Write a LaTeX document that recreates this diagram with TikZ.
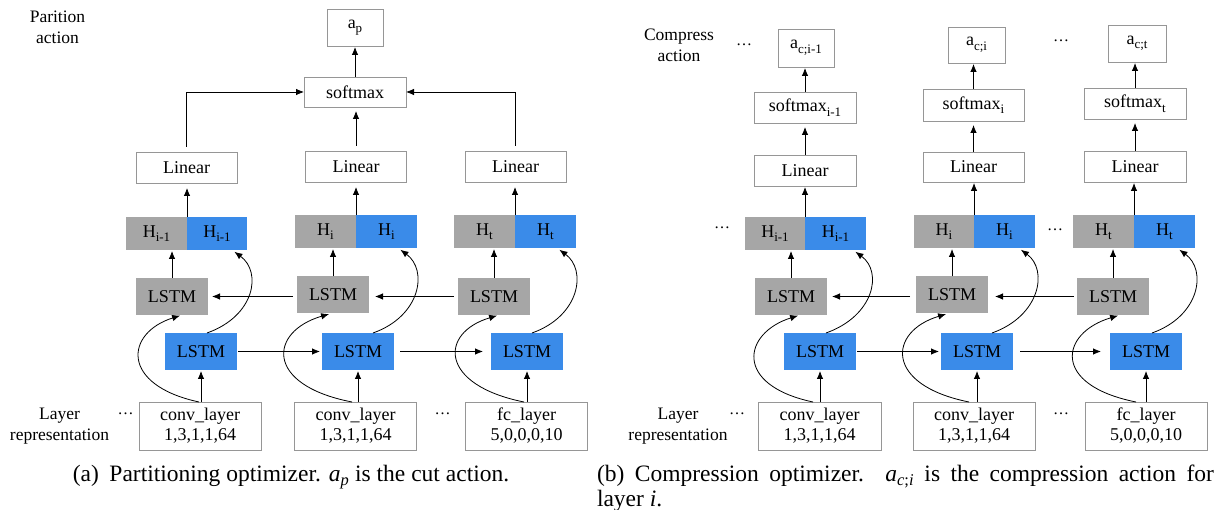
\documentclass[tikz,border=0pt]{standalone}
\usepackage{fontspec}
\setmainfont{Liberation Serif}
\usetikzlibrary{arrows.meta}
\definecolor{lgray}{RGB}{166,166,166}
\definecolor{lblue}{RGB}{58,139,233}
\definecolor{bordergray}{RGB}{150,150,150}
\newcommand{\mysub}[1]{\raisebox{-4.5pt}{\fontsize{13}{13}\selectfont #1}}
\newcommand{\mydots}{\raisebox{0.3em}{…}}
\tikzset{
  every node/.style={inner sep=0pt, outer sep=0pt},
  boxfont/.style={font=\fontsize{18}{20}\selectfont, align=center},
  wbox/.style={boxfont, draw=bordergray, line width=0.9pt, fill=white},
  gbox/.style={boxfont, fill=lgray},
  bbox/.style={boxfont, fill=lblue},
  lstm/.style={minimum width=72pt, minimum height=37pt},
  hbox/.style={minimum width=61pt, minimum height=33pt},
  botbox/.style={wbox, minimum width=122pt, minimum height=48pt},
  linbox/.style={wbox, minimum width=101pt, minimum height=31pt},
  lbl/.style={font=\fontsize{17.5}{21}\selectfont, align=center},
  dotsty/.style={font=\fontsize{16}{16}\selectfont},
  capfont/.style={font=\fontsize{23.5}{24}\selectfont},
  arr/.style={-{Latex[length=8pt,width=6.5pt]}, line width=0.8pt},
}
\begin{document}
\begin{tikzpicture}[x=1pt,y=-1pt]
\useasboundingbox (0,0) rectangle (1216,510);

% ---------------- panel (a) ----------------
\node[lbl] (pact) at (57.5,27) {Parition\\action};
\node[wbox, minimum width=56pt, minimum height=37pt] (ap) at (355,27.5) {a\mysub{p}};
\node[wbox, minimum width=102pt, minimum height=30pt] (sma) at (355,92) {softmax};
\node[linbox] (linA1) at (186.5,167.5) {Linear};
\node[linbox] (linA2) at (356,166.5) {Linear};
\node[linbox] (linA3) at (515.5,166.5) {Linear};

\node[gbox, hbox] (HgA1) at (156.5,233.5) {H\mysub{i-1}};
\node[bbox, hbox, minimum width=60pt] (HbA1) at (217,233.5) {H\mysub{i-1}};
\node[gbox, hbox] (HgA2) at (325.5,231.5) {H\mysub{i}};
\node[bbox, hbox] (HbA2) at (386.5,231.5) {H\mysub{i}};
\node[gbox, hbox] (HgA3) at (484.5,231.5) {H\mysub{t}};
\node[bbox, hbox] (HbA3) at (545.5,231.5) {H\mysub{t}};

\node[gbox, lstm] (LgA1) at (172,296.5) {LSTM};
\node[gbox, lstm] (LgA2) at (333,295) {LSTM};
\node[gbox, lstm] (LgA3) at (494,296.5) {LSTM};
\node[bbox, lstm] (LbA1) at (201,351.5) {LSTM};
\node[bbox, lstm] (LbA2) at (358,351.5) {LSTM};
\node[bbox, lstm] (LbA3) at (527,351.5) {LSTM};

\node[botbox] (BA1) at (200,426) {conv\_layer\\1,3,1,1,64};
\node[botbox] (BA2) at (355.5,426) {conv\_layer\\1,3,1,1,64};
\node[botbox] (BA3) at (526.5,426) {fc\_layer\\5,0,0,0,10};

\node[lbl] (lrepA) at (59.5,426.5) {Layer\\representation};
\node[dotsty] (dA1) at (125.5,416) {\mydots};
\node[dotsty] (dA2) at (442.5,416) {\mydots};

\node[capfont, anchor=base] (capA) at (291,482) {(a)\hspace{0.45em}Partitioning optimizer. {\itshape a}\textsubscript{\itshape p} is the cut action.};

% arrows (a)
\draw[arr, shorten >=1pt] (sma.north) -- (sma.north |- ap.south);
\draw[arr, shorten <=5pt] (linA1.north) |- (sma.west);
\draw[arr, shorten <=5pt] (linA3.north) |- (sma.east);
\draw[arr, shorten <=5pt, shorten >=4pt] (linA2.north) -- (linA2.north |- sma.south);
\foreach \i in {1,2,3}{
  \draw[arr, shorten >=5pt] (HgA\i.north east) -- (HgA\i.north east |- linA\i.south);
  \draw[arr, shorten >=1pt] (LgA\i.north) -- (LgA\i.north |- HgA\i.south);
  \draw[arr, shorten >=1pt] (LbA\i.south |- BA\i.north) -- (LbA\i.south);
}
\draw[arr, shorten <=4pt, shorten >=4pt] (LgA2.west |- LgA1.east) -- (LgA1.east);
\draw[arr, shorten <=4pt, shorten >=6pt] (LgA3.west) -- (LgA3.west -| LgA2.east);
\draw[arr, shorten <=1pt, shorten >=2pt] (LbA1.east) -- (LbA2.west);
\draw[arr, shorten <=6pt, shorten >=8pt] (LbA2.east) -- (LbA3.west);
% curves (a)
\draw[arr, shorten >=2pt] ([xshift=-1pt]BA1.north) .. controls +(-79,-17) and +(-57,18) .. ([xshift=10pt]LgA1.south);
\draw[arr, shorten >=2pt] ([xshift=-3.5pt]BA2.north) .. controls +(-88,-17) and +(-62,18) .. ([xshift=-2pt]LgA2.south);
\draw[arr, shorten >=2pt] ([xshift=-2.5pt]BA3.north) .. controls +(-85,-17) and +(-60,18) .. ([xshift=5pt]LgA3.south);
\draw[arr, shorten >=3pt] ([xshift=6pt]LbA1.north) .. controls +(48,-17) and +(30,22) .. ([xshift=15pt]HbA1.south);
\draw[arr, shorten >=3pt] ([xshift=15pt]LbA2.north) .. controls +(48,-17) and +(30,22) .. ([xshift=11.5pt]HbA2.south);
\draw[arr, shorten >=3pt] ([xshift=5pt]LbA3.north) .. controls +(48,-17) and +(30,22) .. ([xshift=11.5pt]HbA3.south);

% ---------------- panel (b) ----------------
\node[lbl] (cact) at (679,45.5) {Compress\\action};
\node[dotsty] (dB1) at (744,47) {\mydots};
\node[dotsty] (dB2) at (1061,43) {\mydots};
\node[wbox, minimum width=56pt, minimum height=38pt] (acB1) at (806,48) {a\mysub{c;i-1}};
\node[wbox, minimum width=57pt, minimum height=36pt] (acB2) at (976.5,45) {a\mysub{c;i}};
\node[wbox, minimum width=58pt, minimum height=37pt] (acB3) at (1137,43.5) {a\mysub{c;t}};
\node[wbox, minimum width=102pt, minimum height=31pt] (smB1) at (805,107.5) {softmax\mysub{i-1}};
\node[wbox, minimum width=101pt, minimum height=32pt] (smB2) at (973.5,105) {softmax\mysub{i}};
\node[wbox, minimum width=102pt, minimum height=31pt] (smB3) at (1135,103.5) {softmax\mysub{t}};
\node[linbox, minimum width=102pt] (linB1) at (805,170.5) {Linear};
\node[linbox, minimum height=30pt] (linB2) at (973.5,167) {Linear};
\node[linbox, minimum width=102pt] (linB3) at (1135,166.5) {Linear};

\node[dotsty] (dB3) at (722,230) {\mydots};
\node[gbox, hbox, minimum width=60pt] (HgB1) at (775,233.5) {H\mysub{i-1}};
\node[bbox, hbox] (HbB1) at (835.5,233.5) {H\mysub{i-1}};
\node[gbox, hbox, minimum width=60pt] (HgB2) at (944,231.5) {H\mysub{i}};
\node[bbox, hbox] (HbB2) at (1004.5,231.5) {H\mysub{i}};
\node[dotsty] (dB4) at (1055,232) {\mydots};
\node[gbox, hbox] (HgB3) at (1103.5,231.5) {H\mysub{t}};
\node[bbox, hbox] (HbB3) at (1164.5,231.5) {H\mysub{t}};

\node[gbox, lstm] (LgB1) at (791,296.5) {LSTM};
\node[gbox, lstm] (LgB2) at (952,295) {LSTM};
\node[gbox, lstm] (LgB3) at (1113,296.5) {LSTM};
\node[bbox, lstm] (LbB1) at (820,351.5) {LSTM};
\node[bbox, lstm] (LbB2) at (977,351.5) {LSTM};
\node[bbox, lstm] (LbB3) at (1146,351.5) {LSTM};

\node[botbox, minimum width=123pt] (BB1) at (819.5,426) {conv\_layer\\1,3,1,1,64};
\node[botbox] (BB2) at (974,426) {conv\_layer\\1,3,1,1,64};
\node[botbox] (BB3) at (1146,426) {fc\_layer\\5,0,0,0,10};

\node[lbl] (lrepB) at (678,426.5) {Layer\\representation};
\node[dotsty] (dB5) at (737,416) {\mydots};
\node[dotsty] (dB6) at (1061,416) {\mydots};

\node[capfont, anchor=base west] (capB1) at (597,482) {\makebox[617pt][s]{(b)\hspace{0.45em}Compression optimizer. {\itshape a}\textsubscript{{\itshape c};{\itshape i}} is the compression action for}};
\node[capfont, anchor=base west] (capB2) at (597,506) {layer {\itshape i}.};

% arrows (b)
\foreach \i in {1,2,3}{
  \draw[arr, shorten >=1pt] (smB\i.north) -- (smB\i.north |- acB\i.south);
  \draw[arr, shorten >=4pt] (linB\i.north) -- (linB\i.north |- smB\i.south);
  \draw[arr, shorten >=1pt] (HgB\i.north east) -- (HgB\i.north east |- linB\i.south);
  \draw[arr, shorten >=1pt] (LgB\i.north) -- (LgB\i.north |- HgB\i.south);
  \draw[arr, shorten >=1pt] (LbB\i.south |- BB\i.north) -- (LbB\i.south);
}
\draw[arr, shorten <=6pt, shorten >=5pt] (LgB2.west |- LgB1.east) -- (LgB1.east);
\draw[arr, shorten <=3pt, shorten >=7pt] (LgB3.west) -- (LgB3.west -| LgB2.east);
\draw[arr, shorten <=1pt, shorten >=2pt] (LbB1.east) -- (LbB2.west);
\draw[arr, shorten <=7pt, shorten >=9pt] (LbB2.east) -- (LbB3.west);
% curves (b)
\draw[arr, shorten >=2pt] ([xshift=-6.5pt]BB1.north) .. controls +(-80,-17) and +(-57,18) .. ([xshift=9pt]LgB1.south);
\draw[arr, shorten >=2pt] ([xshift=-5pt]BB2.north) .. controls +(-85,-17) and +(-60,18) .. ([xshift=-4pt]LgB2.south);
\draw[arr, shorten >=2pt] ([xshift=-10pt]BB3.north) .. controls +(-85,-17) and +(-60,18) .. ([xshift=7pt]LgB3.south);
\draw[arr, shorten >=3pt] ([xshift=6pt]LbB1.north) .. controls +(48,-17) and +(30,22) .. ([xshift=17.5pt]HbB1.south);
\draw[arr, shorten >=3pt] ([xshift=15pt]LbB2.north) .. controls +(48,-17) and +(30,22) .. ([xshift=14pt]HbB2.south);
\draw[arr, shorten >=3pt] ([xshift=6pt]LbB3.north) .. controls +(48,-17) and +(30,22) .. ([xshift=12.5pt]HbB3.south);
\end{tikzpicture}
\end{document}
